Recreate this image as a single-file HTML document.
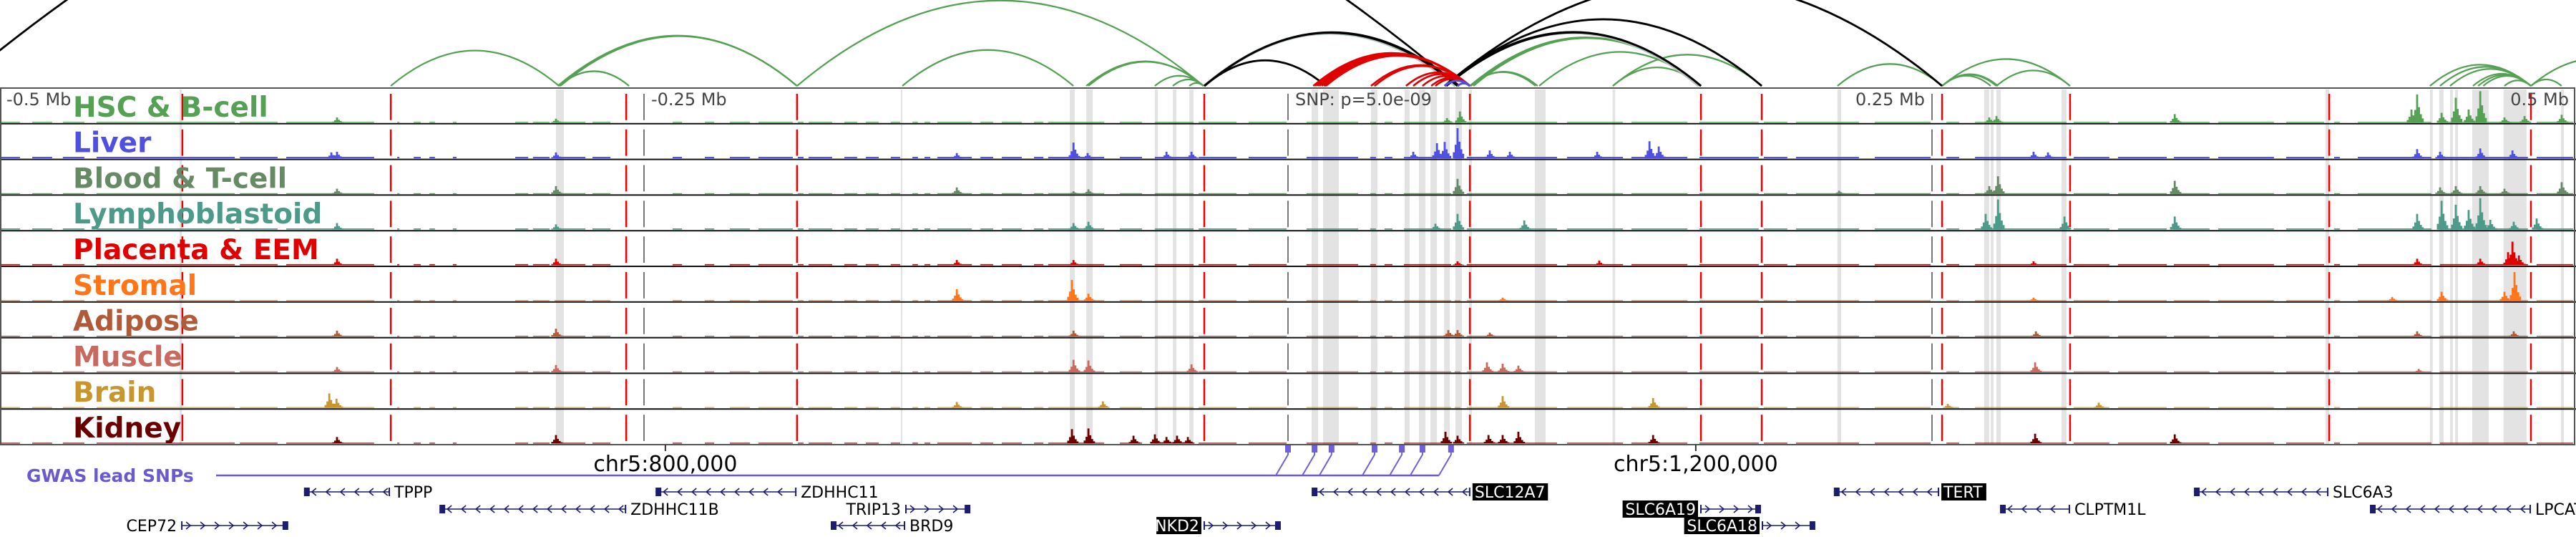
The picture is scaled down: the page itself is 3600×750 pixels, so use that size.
<!DOCTYPE html>
<html><head><meta charset="utf-8"><style>
html,body{margin:0;padding:0;background:#fff;}
svg{display:block;}
</style></head><body>
<svg id="chart" xmlns="http://www.w3.org/2000/svg" width="3600" height="750" viewBox="0 0 3600 750"></svg>
<script>
// ---------- DATA (kb relative to lead SNP) ----------
const trackNames = ["HSC & B-cell","Liver","Blood & T-cell","Lymphoblastoid","Placenta & EEM","Stromal","Adipose","Muscle","Brain","Kidney"];
const trackColors = ["#55a055","#5050e0","#668a66","#4e9a8a","#e00000","#ff7518","#b05a3a","#c86a60","#c8962e","#6a0000"];
const baseLevels = [1.2,2.2,1.2,1.8,1.8,1.2,1.3,1.3,1.2,1.2];
const coverage = [[-500,-491.7],[-487.5,-479.2],[-475.6,-466.7],[-462.5,-408.3],[-406.9,-391.7],[-388.9,-354.2],[-345.8,-344.4],[-339.4,-336.1],[-333.3,-330.6],[-324.2,-322.2],[-300,-294.4],[-293.1,-286.1],[-284.7,-272.2],[-270,-262.5],[-238.9,-234.7],[-226.4,-222.2],[-216.7,-208.3],[-205.6,-191.7],[-190.3,-187.5],[-186.1,-176.4],[-172.2,-166.7],[-163.9,-158.3],[-154.2,-150],[-145.8,-143.1],[-141.1,-138.3],[-136.1,-122.2],[-119.4,-113.9],[-111.1,-102.8],[-98.6,-94.4],[-93.1,-70.8],[-65.3,-56.1],[-51.7,-36.1],[-34.7,-19.4],[-15.3,0],[7.2,27.8],[31.9,34.7],[37.5,41.1],[45,63.9],[64.7,67.5],[69.4,105],[108.3,130.6],[133.3,155.6],[159.7,183.3],[184.7,194.4],[197.2,222.2],[227.8,250],[255.6,261.1],[266.7,302.8],[305,319.4],[322.2,341.7],[343.9,358.3],[361.1,383.3],[387.5,402.8],[406.1,408.9],[415.3,444.4],[447.2,481.9],[484.7,499.4]];
// peaks per track: [kb, signal]
const peaksHSC = [[-369.2,8],[-284.2,6],[61.7,7],[66.7,17],[272.2,8],[275,10],[344.2,13],[436.1,20],[438.3,43],[447.8,15],[453.3,38],[458.3,20],[462.8,48],[472.2,8],[480,10],[494.4,12]];
const peaksLiver = [[-371.4,9],[-369.2,10],[-284.2,9],[-128.6,8],[-83.3,24],[-77.8,8],[-47.2,10],[-37.5,10],[48.6,10],[57.8,23],[60.8,25],[65.8,46],[78.3,12],[86.1,10],[120,10],[140.3,26],[143.9,18],[289.4,10],[295,9],[438.3,14],[447.2,10],[462.8,15],[475.3,12]];
const peaksBlood = [[-369.2,8],[-284.2,12],[-128.6,10],[-83.3,4],[-77.5,7],[65.8,23],[213.9,5],[272.2,12],[275.6,27],[344.2,20],[447.2,10],[453.3,12],[462.8,12],[472.2,8],[494.4,18]];
const peaksLympho = [[-369.2,10],[-284.2,8],[-83.3,10],[-77.5,12],[57.2,9],[65.8,24],[91.7,14],[270.8,24],[275.6,46],[301.4,20],[344.2,20],[438.3,24],[447.8,44],[453.3,38],[458.3,30],[462.8,48],[466.7,15],[475.8,12],[484.7,17]];
const peaksPlacenta = [[-369.2,10],[-284.2,10],[-128.6,8],[-83.3,8],[65.8,6],[120.8,7],[289.4,6],[438.3,10],[462.8,10],[473.6,20],[475.3,36],[477.8,15]];
const peaksStromal = [[-128.6,18],[-83.9,32],[-77.5,11],[83.3,5],[289.4,5],[428.6,6],[447.8,14],[472.2,14],[476.1,44]];
const peaksAdipose = [[-369.2,9],[-284.2,12],[-83.3,9],[62.2,10],[65.8,10],[78.3,6],[290.3,8],[438.3,8],[475.8,8]];
const peaksMuscle = [[-369.2,8],[-284.2,11],[-83.3,19],[-77.5,18],[-37.5,12],[77.2,15],[83.3,13],[89.4,10],[290,15],[438.9,5]];
const peaksBrain = [[-372.2,22],[-369.4,14],[-128.6,9],[-71.9,10],[83.3,18],[141.7,15],[256.1,6],[314.7,8]];
const peaksKidney = [[-369.2,10],[-284.2,13],[-83.9,22],[-77.5,23],[-60,12],[-51.7,14],[-47.2,10],[-43.1,12],[-38.9,10],[61.1,18],[65.8,12],[77.8,13],[83.3,13],[89.4,18],[141.7,13],[290,15],[344.2,14]];
const allPeaks = [peaksHSC,peaksLiver,peaksBlood,peaksLympho,peaksPlacenta,peaksStromal,peaksAdipose,peaksMuscle,peaksBrain,peaksKidney];
const highlightBands = [[-430.3,-429.4],[-284.2,-281.1],[-150.3,-149.7],[-84.7,-82.8],[-78.3,-75.8],[-51.7,-50.5],[-44.7,-43.3],[-38.3,-36.7],[9.2,11.7],[13.6,19.7],[32.2,34.7],[45.3,47.2],[50.8,53.3],[55.3,57.8],[60.6,62.8],[65,67.5],[70.3,71.4],[95.8,100],[126,127],[213.3,214.7],[270.3,272.2],[272.8,273.9],[275,276.7],[300.3,302.2],[402.8,404.2],[443.3,444.4],[446.9,448.6],[451.1,452.2],[453.1,454.2],[459.7,466.1],[471.9,480.8],[494.2,495.3]];
const boundaries = [-429.2,-348.3,-256.9,-190.6,-32.5,70.6,160.3,183.9,253.9,303.6,404.2,482.5];
const tickKb = [-250,0,250];
const tickLabels = ["-0.5 Mb","-0.25 Mb","SNP: p=5.0e-09","0.25 Mb","0.5 Mb"];
const tickLabelKb = [-500,-250,0,250,500];
const arcsGreen = [[-348.3,-283],[-283,-190.6],[-283.5,-190.6],[-282.5,-190.6],[-283,-255.8],[-190.6,-32.8],[-149.7,-83.3],[-78.3,-32.8],[-77.5,-32.8],[-51.7,-32.8],[-44.7,-32.8],[-38.3,-32.8],[65.8,70.6],[70.6,96.1],[70.6,96.9],[70.6,160.3],[71,160.3],[72,160.3],[97.5,160.3],[126.1,160.3],[126.1,183.9],[213.3,253.9],[253.9,272.8],[253.9,275],[253.9,275.6],[253.9,303.6],[275,303.6],[443.3,482.5],[447.2,482.5],[451.1,482.5],[460,482.5],[462,482.5],[464,482.5],[472.2,482.5],[482.5,494.4],[482.5,533]];
const arcsBlack = [[-517,65.8],[-32.5,14.7],[-32.5,65.8],[-32.5,66.5],[60.8,183.9],[60.8,160.3],[61.5,160.3],[60.8,253.9]];
const arcsGray = [[-32.5,65],[61,159.5],[33.3,70.6]];
const arcsRed = [[9.8,70.6],[10.6,70.6],[11.4,70.6],[12.2,70.6],[13.1,70.6],[14,70.6],[14.7,70.6],[32.2,70.6],[33.6,70.6],[45.8,70.6],[48.6,70.6],[52.2,70.6],[55.6,70.6],[57.2,70.6]];
const arcsBlue = [[60.8,70.6],[65.8,70.6]];
const snpKb = [0,10.3,16.9,33.6,44.2,52.2,63.3];
const genes = [
 {name:"TPPP",start:-382,end:-348.6,row:0,dir:-1,box:false},
 {name:"ZDHHC11",start:-245.5,end:-190.8,row:0,dir:-1,box:false},
 {name:"SLC12A7",start:9.2,end:70.8,row:0,dir:-1,box:true},
 {name:"TERT",start:211.9,end:252.8,row:0,dir:-1,box:true},
 {name:"SLC6A3",start:351.7,end:403.9,row:0,dir:-1,box:false},
 {name:"ZDHHC11B",start:-329.4,end:-256.9,row:1,dir:-1,box:false},
 {name:"TRIP13",start:-148.6,end:-123.3,row:1,dir:1,box:false,labelLeft:true},
 {name:"SLC6A19",start:160.0,end:183.6,row:1,dir:1,box:true,labelLeft:true},
 {name:"CLPTM1L",start:276.4,end:303.6,row:1,dir:-1,box:false},
 {name:"LPCAT1",start:420,end:482.5,row:1,dir:-1,box:false},
 {name:"CEP72",start:-429.7,end:-388.1,row:2,dir:1,box:false,labelLeft:true},
 {name:"BRD9",start:-177.5,end:-148.6,row:2,dir:-1,box:false},
 {name:"NKD2",start:-32.8,end:-2.8,row:2,dir:1,box:true,labelLeft:true},
 {name:"SLC6A18",start:183.9,end:204.7,row:2,dir:1,box:true,labelLeft:true}
];
const axisLabels = ["chr5:800,000","chr5:1,200,000"];
const axisLabelKb = [-241.7,158.3];

// ---------- SCALES ----------
const NS="http://www.w3.org/2000/svg";
const svg=document.getElementById('chart');
const X=kb=>1800+kb*3.6;
const panelTop=123, trackH=49.8, nT=10, panelBot=panelTop+trackH*nT;
const trackTop=i=>panelTop+i*trackH;
const Y=(i,v)=>trackTop(i)+trackH-1.5-v*(trackH-4)/50;
function mk(tag,attrs,parent){const e=document.createElementNS(NS,tag);for(const k in attrs)e.setAttribute(k,attrs[k]);(parent||svg).appendChild(e);return e;}

// highlight bands
const gBands=mk('g',{});


highlightBands.forEach(b=>{
  const r=mk('rect',{x:X(b[0]),y:panelTop+2,width:Math.max(2,X(b[1])-X(b[0])),height:panelBot-panelTop-2,fill:'#e3e3e3'},gBands);
  
  
});

// tracks
trackNames.forEach((nm,i)=>{
  const g=mk('g',{});
  
  
  const col=trackColors[i], base=Y(i,0);
  coverage.forEach(c=>{
    const r=mk('rect',{x:X(c[0]),y:Y(i,baseLevels[i]),width:Math.max(1,X(c[1])-X(c[0])-2),height:base-Y(i,baseLevels[i]),fill:col},g);
    
    
  });
  const shape=[0.2,0.45,1,0.55,0.3,0.15];
  allPeaks[i].forEach(p=>{
    shape.forEach((s,k)=>{
      const v=p[1]*s, y=Y(i,v);
      const r=mk('rect',{x:X(p[0])+(k-2)*2.6-1.3,y:y,width:2.8,height:base-y,fill:col},g);
      
      
    });
  });
});

// gray tick lines & red boundaries (dashed per track)
const gLines=mk('g',{});


for(let i=0;i<nT;i++){
  tickKb.forEach(k=>{
    const l=mk('line',{x1:X(k),x2:X(k),y1:trackTop(i)+8,y2:trackTop(i)+trackH-5,stroke:'#777','stroke-width':2},gLines);
    
    
  });
  boundaries.forEach(k=>{
    const l=mk('line',{x1:X(k),x2:X(k),y1:trackTop(i)+8,y2:trackTop(i)+trackH-5,stroke:'#ee0000','stroke-width':2.5},gLines);
    
    
  });
}

// separators & frame
for(let i=1;i<nT;i++){
  const l=mk('line',{x1:0,x2:3600,y1:trackTop(i),y2:trackTop(i),stroke:'#111','stroke-width':2});
  
  
}
const fr=mk('rect',{x:1,y:panelTop,width:3597,height:panelBot-panelTop,fill:'none',stroke:'#555','stroke-width':2});



// track labels
trackNames.forEach((nm,i)=>{
  const t=mk('text',{x:102,y:trackTop(i)+trackH-10,fill:trackColors[i],'font-family':'"DejaVu Sans","Liberation Sans",sans-serif','font-weight':'bold','font-size':39});
  t.textContent=nm;
  
  
});

// top tick labels
tickLabels.forEach((s,j)=>{
  const kb=tickLabelKb[j];
  const anchor = kb<=0 ? 'start' : 'end';
  const x = kb===-500?9:(kb===500?3590:(kb>0?X(kb)-10:X(kb)+10));
  const t=mk('text',{x:x,y:147,fill:'#444','font-family':'"DejaVu Sans","Liberation Sans",sans-serif','font-size':24,'text-anchor':anchor});
  t.textContent=s;
  
  
});

// arcs
const arcBase=120;
function drawArcs(list,color,w,name){
  const g=mk('g',{});
  
  
  list.forEach(a=>{
    const x1=X(a[0]),x2=X(a[1]),h=0.21*Math.abs(x2-x1);
    const p=mk('path',{d:`M${x1},${arcBase} Q${(x1+x2)/2},${arcBase-2*h} ${x2},${arcBase}`,fill:'none',stroke:color,'stroke-width':w},g);
    
    
  });
}
drawArcs(arcsGreen,'#55a055',2.2,'arcs-green');
drawArcs(arcsGray,'#b8c4c0',4,'arcs-gray');
drawArcs(arcsBlack,'#000',2.8,'arcs-black');
drawArcs(arcsRed,'#e00000',2.6,'arcs-red');
drawArcs(arcsBlue,'#5050e0',3,'arcs-blue');

// genomic axis
axisLabels.forEach((s,j)=>{
  const x=X(axisLabelKb[j]);
  const l=mk('line',{x1:x,x2:x,y1:panelBot,y2:panelBot+9,stroke:'#333','stroke-width':2});
  
  
  const t=mk('text',{x:x,y:658,fill:'#000','font-family':'"DejaVu Sans","Liberation Sans",sans-serif','font-size':30,'text-anchor':'middle'});
  t.textContent=s;
  
  
});

// GWAS track
const gw=mk('text',{x:37,y:673,fill:'#6a5acd','font-family':'"DejaVu Sans","Liberation Sans",sans-serif','font-weight':'bold','font-size':25});
gw.textContent='GWAS lead SNPs';


const lastSnp=X(snpKb[snpKb.length-1]);
const gl=mk('line',{x1:302,x2:lastSnp-17,y1:664,y2:664,stroke:'#6a5acd','stroke-width':2.5});


snpKb.forEach(k=>{
  const x=X(k);
  const r=mk('rect',{x:x-4,y:622,width:8,height:10,fill:'#7060d8'});
  
  
  const d=mk('path',{d:`M${x},632 L${x},635 L${x-17},664`,fill:'none',stroke:'#7060d8','stroke-width':2});
  
  
});

// genes
const rowY=[687,711,734];
genes.forEach(gn=>{
  const g=mk('g',{});
  
  
  const x1=X(gn.start),x2=X(gn.end),y=rowY[gn.row],c='#1c1c70';
  mk('line',{x1:x1,x2:x2,y1:y,y2:y,stroke:c,'stroke-width':1.6},g);
  for(let x=x1+12;x<x2-6;x+=20){
    const d=gn.dir<0?`M${x+5},${y-5} L${x-1},${y} L${x+5},${y+5}`:`M${x-5},${y-5} L${x+1},${y} L${x-5},${y+5}`;
    mk('path',{d:d,fill:'none',stroke:c,'stroke-width':1.6},g);
  }
  const tx=gn.dir<0?x1:x2-8;
  mk('rect',{x:tx,y:y-6,width:8,height:12,fill:c},g);
  mk('rect',{x:gn.dir<0?x2-2:x1,y:y-6,width:2,height:12,fill:c},g);
  const fs=22;
  const label=gn.labelLeft?x1-3:x2+3;
  const anchor=gn.labelLeft?'end':'start';
  if(gn.box){
    const w=gn.name.length*14.2+6;
    mk('rect',{x:gn.labelLeft?label-w:label,y:y-12,width:w,height:24,fill:'#000'},g);
  }
  const t=mk('text',{x:gn.labelLeft?label-3:label+3,y:y+8,fill:gn.box?'#fff':'#000','font-family':'"DejaVu Sans","Liberation Sans",sans-serif','font-size':fs,'text-anchor':anchor},g);
  t.textContent=gn.name;
});
</script>
</body></html>
